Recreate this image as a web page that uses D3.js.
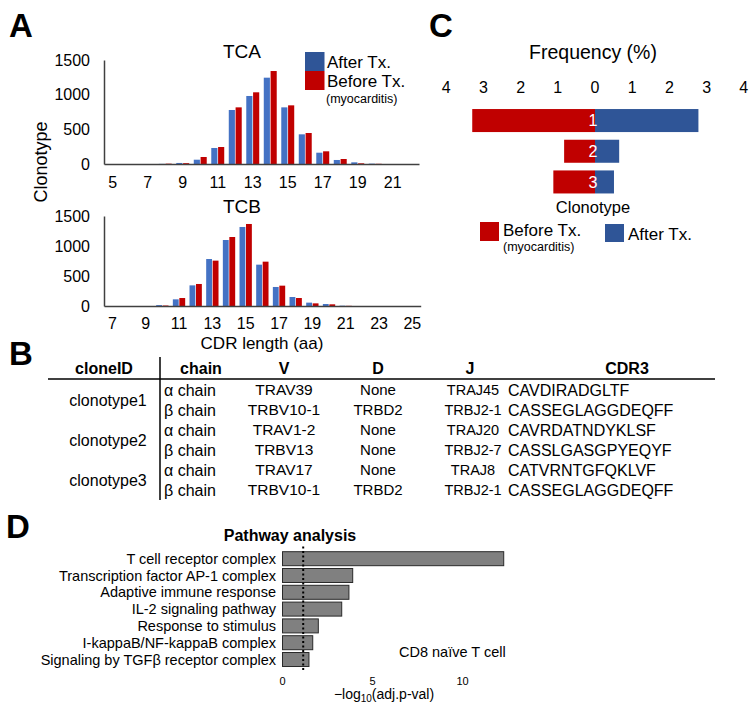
<!DOCTYPE html>
<html><head><meta charset="utf-8">
<script src="https://cdn.jsdelivr.net/npm/d3@7"></script>
<style>
body{margin:0;background:#fff}
svg{display:block}
text{font-family:"Liberation Sans",Arial,sans-serif}
</style>
</head><body>
<svg id="c" width="753" height="709"></svg>
<script>
// ---------- Panel A data ----------
const countTicks = [0, 500, 1000, 1500];
const tcaLengths = [5,6,7,8,9,10,11,12,13,14,15,16,17,18,19,20,21,22];
const tcaAfter   = [0,0,0,2,15,62,231,779,981,1245,817,428,163,58,24,5,0,0];
const tcaBefore  = [0,0,0,5,12,101,245,817,1034,1341,846,447,183,72,10,3,0,0];
const tcaTicks   = [5,7,9,11,13,15,17,19,21];

const tcbLengths = [7,8,9,10,11,12,13,14,15,16,17,18,19,20,21,22,23,24,25];
const tcbAfter   = [0,0,0,15,111,344,783,1100,1317,689,317,150,56,33,5,0,0,0,0];
const tcbBefore  = [0,0,0,8,133,367,756,1150,1367,739,339,133,44,28,3,0,0,0,0];
const tcbTicks   = [7,9,11,13,15,17,19,21,23,25];

// ---------- Panel C data ----------
const clonotypes = ["1","2","3"];
const freqBefore = [3.30, 0.83, 1.12];
const freqAfter  = [2.78, 0.65, 0.51];
const freqTicks  = [-4,-3,-2,-1,0,1,2,3,4];

// ---------- Panel B data ----------
const tableHeaders = ["cloneID","chain","V","D","J","CDR3"];
const cloneIDs = ["clonotype1","clonotype2","clonotype3"];
const chains = ["α chain","β chain","α chain","β chain","α chain","β chain"];
const vGenes = ["TRAV39","TRBV10-1","TRAV1-2","TRBV13","TRAV17","TRBV10-1"];
const dGenes = ["None","TRBD2","None","None","None","TRBD2"];
const jGenes = ["TRAJ45","TRBJ2-1","TRAJ20","TRBJ2-7","TRAJ8","TRBJ2-1"];
const cdr3s  = ["CAVDIRADGLTF","CASSEGLAGGDEQFF","CAVRDATNDYKLSF","CASSLGASGPYEQYF","CATVRNTGFQKLVF","CASSEGLAGGDEQFF"];

// ---------- Panel D data ----------
const pathways = ["T cell receptor complex","Transcription factor AP-1 complex","Adaptive immune response",
  "IL-2 signaling pathway","Response to stimulus","I-kappaB/NF-kappaB complex","Signaling by TGFβ receptor complex"];
const pathwayScores = [12.29, 3.90, 3.69, 3.29, 1.99, 1.68, 1.47];
const pathwayTicks = [0, 5, 10];
const pathwayThreshold = 1.15;

const BLUE = "#4472C4", BLUE_D = "#2F5597", RED = "#C00000";
const svg = d3.select("#c");
const F = '"Liberation Sans",Arial,sans-serif';

function txt(g, x, y, s, size, opts = {}) {
  const t = g.append("text").attr("x", x).attr("y", y).attr("font-size", size)
    .attr("fill", opts.fill || "#000").attr("text-anchor", opts.anchor || "start")
    .attr("font-weight", opts.bold ? "bold" : "normal").text(s);
  if (opts.dy) t.attr("dy", opts.dy);
  return t;
}

// panel letters
txt(svg, 9, 37, "A", 33, {bold: true});
txt(svg, 9, 365, "B", 33, {bold: true});
txt(svg, 429, 37, "C", 33, {bold: true});
txt(svg, 6, 538, "D", 33, {bold: true});

// ---------- Panel A ----------
function drawHist(cats, after, before, ticks, yBase, yTop, x0, x1, title, titleY, tickPad) {
  const g = svg.append("g");
  const x = d3.scaleBand().domain(cats).range([x0, x1]).paddingInner(0.26).paddingOuter(0.13);
  const sub = d3.scaleBand().domain(["after","before"]).range([0, x.bandwidth()]).paddingInner(0.1);
  const y = d3.scaleLinear().domain([0, 1500]).range([yBase, yTop]);
  const rows = cats.map((c, i) => ({c, a: after[i], b: before[i]}));
  g.selectAll("rect.a").data(rows).join("rect").attr("class","a")
    .attr("x", d => x(d.c) + sub("after")).attr("y", d => y(d.a))
    .attr("width", sub.bandwidth()).attr("height", d => y(0) - y(d.a)).attr("fill", BLUE);
  g.selectAll("rect.b").data(rows).join("rect").attr("class","b")
    .attr("x", d => x(d.c) + sub("before")).attr("y", d => y(d.b))
    .attr("width", sub.bandwidth()).attr("height", d => y(0) - y(d.b)).attr("fill", RED);
  const ya = g.append("g").attr("transform", `translate(${x0},0)`)
    .call(d3.axisLeft(y).tickValues(countTicks).tickFormat(d3.format("d")).tickSize(0).tickSizeOuter(0).tickPadding(14));
  ya.attr("font-family", F).attr("font-size", 16);
  ya.select(".domain").attr("stroke", "#404040").attr("stroke-width", 1.5);
  ya.selectAll("text").attr("fill", "#000");
  const xa = g.append("g").attr("transform", `translate(0,${yBase})`)
    .call(d3.axisBottom(x).tickValues(ticks).tickSize(0).tickSizeOuter(0).tickPadding(tickPad));
  xa.attr("font-family", F).attr("font-size", 16);
  xa.select(".domain").attr("stroke", "#404040").attr("stroke-width", 1.5);
  xa.selectAll("text").attr("fill", "#000");
  txt(g, 242, titleY, title, 19, {anchor: "middle"});
}
drawHist(tcaLengths, tcaAfter, tcaBefore, tcaTicks, 164, 60, 104, 419, "TCA", 58, 13);
drawHist(tcbLengths, tcbAfter, tcbBefore, tcbTicks, 306, 216, 104, 420.7, "TCB", 213, 12);

// y title & x title
txt(svg, 0, 0, "Clonotype", 18, {anchor: "middle"}).attr("transform", "translate(47,162) rotate(-90)");
txt(svg, 262, 349, "CDR length (aa)", 17, {anchor: "middle"});

// legend A
svg.append("rect").attr("x", 305).attr("y", 52).attr("width", 19.5).attr("height", 19).attr("fill", BLUE_D);
svg.append("rect").attr("x", 305).attr("y", 71).attr("width", 19.5).attr("height", 19).attr("fill", RED);
txt(svg, 327, 68, "After Tx.", 17);
txt(svg, 327, 87, "Before Tx.", 17);
txt(svg, 326, 103, "(myocarditis)", 12.5);

// ---------- Panel C ----------
{
  const g = svg.append("g");
  const x = d3.scaleLinear().domain([-4, 4]).range([595 - 4 * 37.2, 595 + 4 * 37.2]);
  const y = d3.scaleBand().domain(clonotypes).range([105.2, 197.3]).paddingInner(0.25).paddingOuter(0.125);
  txt(g, x(0) - 2, 59, "Frequency (%)", 19.5, {anchor: "middle"});
  freqTicks.forEach(t => txt(g, x(t), 93, String(Math.abs(t)), 16, {anchor: "middle"}));
  const rows = clonotypes.map((c, i) => ({c, b: freqBefore[i], a: freqAfter[i]}));
  g.selectAll("rect.b").data(rows).join("rect").attr("class","b")
    .attr("x", d => x(-d.b)).attr("y", d => y(d.c)).attr("width", d => x(0) - x(-d.b))
    .attr("height", y.bandwidth()).attr("fill", RED);
  g.selectAll("rect.a").data(rows).join("rect").attr("class","a")
    .attr("x", x(0)).attr("y", d => y(d.c)).attr("width", d => x(d.a) - x(0))
    .attr("height", y.bandwidth()).attr("fill", BLUE_D);
  rows.forEach(d => txt(g, x(0) - 2, y(d.c) + y.bandwidth() / 2, d.c, 16, {anchor: "middle", fill: "#fff", dy: "0.36em"}));
  txt(g, x(0) - 2, 213, "Clonotype", 16.5, {anchor: "middle"});
  g.append("rect").attr("x", 480).attr("y", 222).attr("width", 19).attr("height", 19).attr("fill", RED);
  txt(g, 503, 236, "Before Tx.", 17);
  txt(g, 503, 251, "(myocarditis)", 12.5);
  g.append("rect").attr("x", 605).attr("y", 224).attr("width", 19).attr("height", 18).attr("fill", BLUE_D);
  txt(g, 628, 240, "After Tx.", 17);
}

// ---------- Panel B ----------
{
  const g = svg.append("g");
  const rowY = d3.scaleBand().domain([0,1,2,3,4,5]).range([380, 500]);
  const cy = i => rowY(i) + rowY.bandwidth() / 2;
  const hx = [104, 201, 284, 378, 470, 627];
  tableHeaders.forEach((h, i) => txt(g, hx[i], 368, h, 16, {anchor: "middle", bold: true, dy: "0.35em"}));
  g.append("line").attr("x1", 48).attr("x2", 715).attr("y1", 379).attr("y2", 379).attr("stroke", "#000").attr("stroke-width", 1.5);
  g.append("line").attr("x1", 160).attr("x2", 160).attr("y1", 357).attr("y2", 500).attr("stroke", "#000").attr("stroke-width", 1.5);
  cloneIDs.forEach((c, k) => txt(g, 108, rowY(2 * k) + rowY.step(), c, 16, {anchor: "middle", dy: "0.35em"}));
  chains.forEach((c, i) => txt(g, 164, cy(i), c, 16, {dy: "0.35em"}));
  vGenes.forEach((c, i) => txt(g, 284, cy(i), c, 15.5, {anchor: "middle", dy: "0.35em"}));
  dGenes.forEach((c, i) => txt(g, 378, cy(i), c, 15, {anchor: "middle", dy: "0.35em"}));
  jGenes.forEach((c, i) => txt(g, 473, cy(i), c, 14.5, {anchor: "middle", dy: "0.35em"}));
  cdr3s.forEach((c, i) => txt(g, 508, cy(i), c, 16, {dy: "0.35em"}));
}

// ---------- Panel D ----------
{
  const g = svg.append("g");
  const x = d3.scaleLinear().domain([0, 10]).range([282.5, 462.5]);
  const y = d3.scaleBand().domain(pathways).range([550.3, 667.9]).paddingInner(0.167).paddingOuter(0.083);
  txt(g, 290, 541, "Pathway analysis", 16, {anchor: "middle", bold: true});
  const rows = pathways.map((p, i) => ({p, v: pathwayScores[i]}));
  g.selectAll("rect").data(rows).join("rect")
    .attr("x", x(0)).attr("y", d => y(d.p)).attr("width", d => x(d.v) - x(0))
    .attr("height", y.bandwidth()).attr("fill", "#808080").attr("stroke", "#2a2a2a").attr("stroke-width", 1);
  rows.forEach(d => txt(g, 276, y(d.p) + y.bandwidth() / 2, d.p, 14.5, {anchor: "end", dy: "0.35em"}));
  g.append("line").attr("x1", x(pathwayThreshold)).attr("x2", x(pathwayThreshold)).attr("y1", 546.5).attr("y2", 672)
    .attr("stroke", "#000").attr("stroke-width", 2).attr("stroke-dasharray", "2,2.5");
  pathwayTicks.forEach(t => txt(g, x(t), 685, String(t), 11, {anchor: "middle"}));
  const at = g.append("text").attr("x", 384).attr("y", 699).attr("font-size", 14).attr("text-anchor", "middle");
  at.append("tspan").text("−log");
  at.append("tspan").attr("font-size", 10).attr("dy", 3).text("10");
  at.append("tspan").attr("dy", -3).text("(adj.p-val)");
  txt(g, 399, 657, "CD8 naïve T cell", 14.5);
}
</script>
</body></html>
